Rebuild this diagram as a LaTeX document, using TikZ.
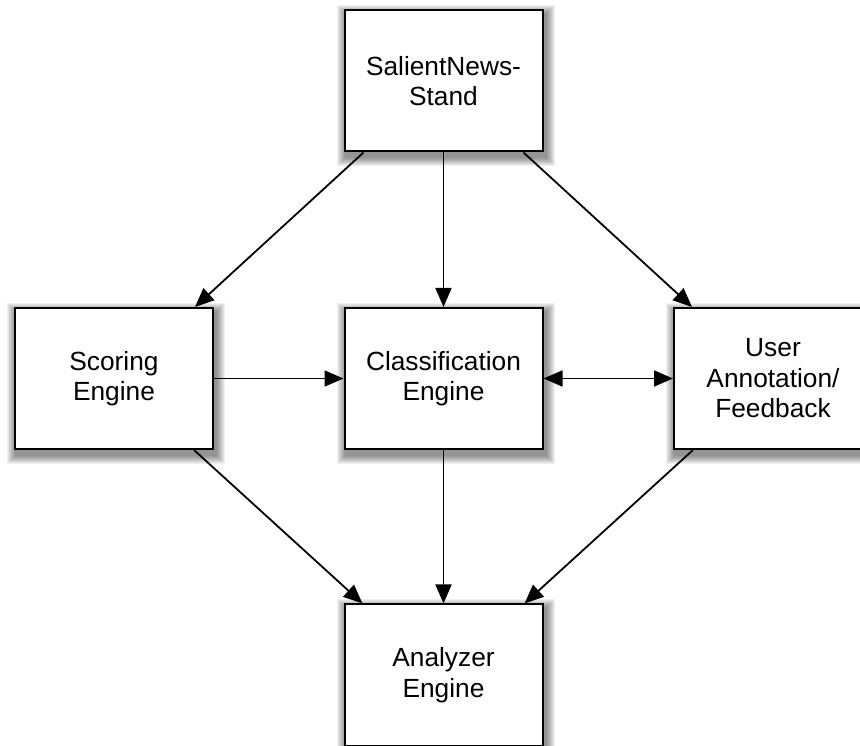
\documentclass[tikz,border=0pt]{standalone}
\usepackage{fontspec}
\setmainfont{Liberation Sans}
\usetikzlibrary{arrows.meta,backgrounds}
\begin{document}
\begin{tikzpicture}[x=1pt,y=1pt,
  box/.style={draw=black, line width=2pt, fill=white, minimum width=198pt, minimum height=141pt,
    align=center, inner sep=0pt, font=\fontsize{26.3}{30.5}\selectfont},
  conn/.style={line width=1.8pt, -{Triangle[length=19pt,width=16pt]}},
  dconn/.style={line width=1.8pt, {Triangle[length=19pt,width=16pt]}-{Triangle[length=19pt,width=16pt]}}]
\useasboundingbox (0,0) rectangle (860,745);
\clip (0,0) rectangle (860,745);
\node[box] (top) at (443.5,664) {SalientNews-\\Stand};
\node[box] (scoring) at (114,366.5) {Scoring\\Engine};
\node[box] (class) at (443.5,366.5) {Classification\\Engine};
\node[box] (user) at (773,366.5) {User\\Annotation/\\Feedback};
\node[box] (analyzer) at (443.5,70) {Analyzer\\Engine};
\begin{scope}[on background layer]
\foreach \n in {top,scoring,class,user,analyzer}{
  \foreach \i in {1,...,9}{
    \fill[black,opacity=0.06] ([shift={(-\i+2,-\i-5)}]\n.south west) rectangle ([shift={(\i+2,\i-5)}]\n.north east);
  }
}
\end{scope}
\draw[conn] ([xshift=20]top.south west) -- ([xshift=-19]scoring.north east);
\draw[conn] (top.south) -- (class.north);
\draw[conn] ([xshift=-20]top.south east) -- ([xshift=19]user.north west);
\draw[conn] (scoring.east) -- (class.west);
\draw[dconn] (class.east) -- (user.west);
\draw[conn] ([xshift=-20]scoring.south east) -- ([xshift=19]analyzer.north west);
\draw[conn] (class.south) -- (analyzer.north);
\draw[conn] ([xshift=20]user.south west) -- ([xshift=-19]analyzer.north east);
\end{tikzpicture}
\end{document}
